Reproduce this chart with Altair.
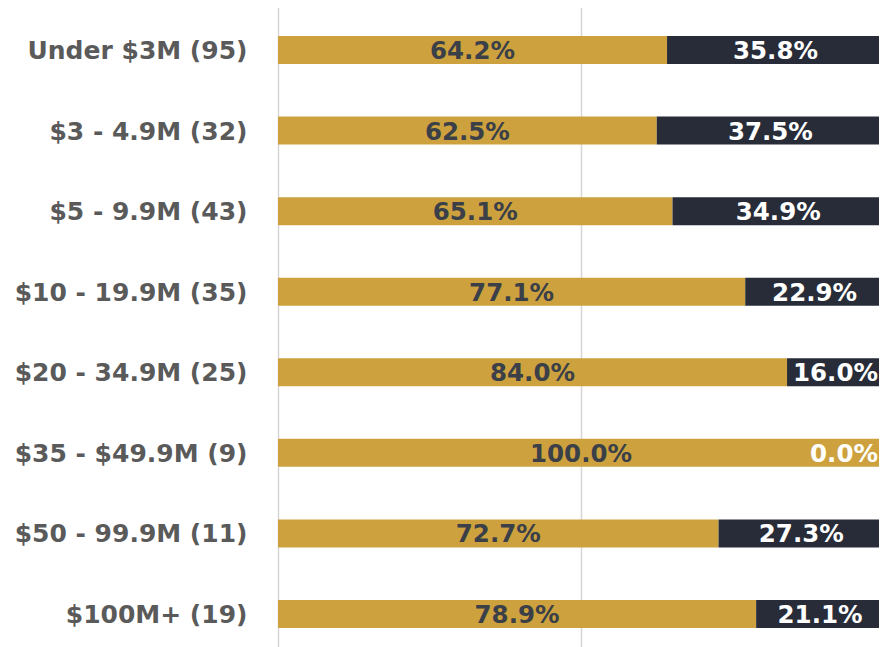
import altair as alt
import pandas as pd

categories = [
    "Under $3M (95)",
    "$3 - 4.9M (32)",
    "$5 - 9.9M (43)",
    "$10 - 19.9M (35)",
    "$20 - 34.9M (25)",
    "$35 - $49.9M (9)",
    "$50 - 99.9M (11)",
    "$100M+ (19)",
]
series_names = ["Reduce Remote Work", "Enable Same or More Remote Work"]
reduce_vals = [64.2, 62.5, 65.1, 77.1, 84.0, 100.0, 72.7, 78.9]
enable_vals = [35.8, 37.5, 34.9, 22.9, 16.0, 0.0, 27.3, 21.1]
series_colors = ["#CDA23E", "#272C38"]

rows = []
for i, c in enumerate(categories):
    rows.append({"category": c, "series": series_names[0], "value": reduce_vals[i], "order": 0})
    rows.append({"category": c, "series": series_names[1], "value": enable_vals[i], "order": 1})
df = pd.DataFrame(rows)

FONT = "DejaVu Sans"

base = alt.Chart(df).transform_stack(
    stack="value", groupby=["category"], as_=["v0", "v1"], sort=[alt.SortField("order")]
).transform_calculate(
    mid="(datum.v0 + datum.v1) / 2",
    label="format(datum.value, '.1f') + '%'",
)

yscale = alt.Scale(range=[0, 646], paddingInner=0.6525, paddingOuter=0.335)
xscale = alt.Scale(domain=[0, 100], nice=False, zero=True, range=[0, 606])

bars = base.mark_bar().encode(
    x=alt.X("v0:Q", scale=xscale,
            axis=alt.Axis(values=[0, 50, 100], grid=True, labels=False, ticks=False,
                          domain=False, title=None, gridColor="#d6d6d6", gridWidth=1.5)),
    x2="v1:Q",
    y=alt.Y("category:N", sort=categories, scale=yscale,
            axis=alt.Axis(title=None, ticks=False, tickSize=0, domain=False,
                          labelFont=FONT, labelFontSize=25, labelFontWeight="bold",
                          labelColor="#5A5A5A", labelPadding=31, labelLimit=0,
                          labelAlign="right", labelBaseline="middle", labelOffset=1)),
    color=alt.Color("series:N", scale=alt.Scale(domain=series_names, range=series_colors), legend=None),
)

label_color = alt.condition(alt.FieldEqualPredicate(field="series", equal=series_names[0]),
                            alt.value("#3A3F48"), alt.value("#FFFFFF"))

text = base.transform_filter("datum.value > 0").mark_text(
    font=FONT, fontSize=24.5, fontWeight="bold", baseline="middle", align="center", dy=2
).encode(
    x=alt.X("mid:Q", scale=xscale),
    y=alt.Y("category:N", sort=categories, scale=yscale),
    text="label:N",
    color=label_color,
)

# zero-width segments: label kept inside the chart edge (right-aligned at the bar end)
text_zero = base.transform_filter("datum.value == 0").mark_text(
    font=FONT, fontSize=24.5, fontWeight="bold", baseline="middle", align="right", dy=2, dx=-6
).encode(
    x=alt.X("v1:Q", scale=xscale),
    y=alt.Y("category:N", sort=categories, scale=yscale),
    text="label:N",
    color=label_color,
)

chart = alt.layer(bars, text, text_zero).properties(
    width=601,
    height=638,
    autosize=alt.AutoSizeParams(type="none"),
    padding={"left": 270, "top": 1, "right": 0, "bottom": 0},
    background="white",
).configure_view(stroke=None)

chart.save("out.html", embed_options={"renderer": "svg", "actions": False})
